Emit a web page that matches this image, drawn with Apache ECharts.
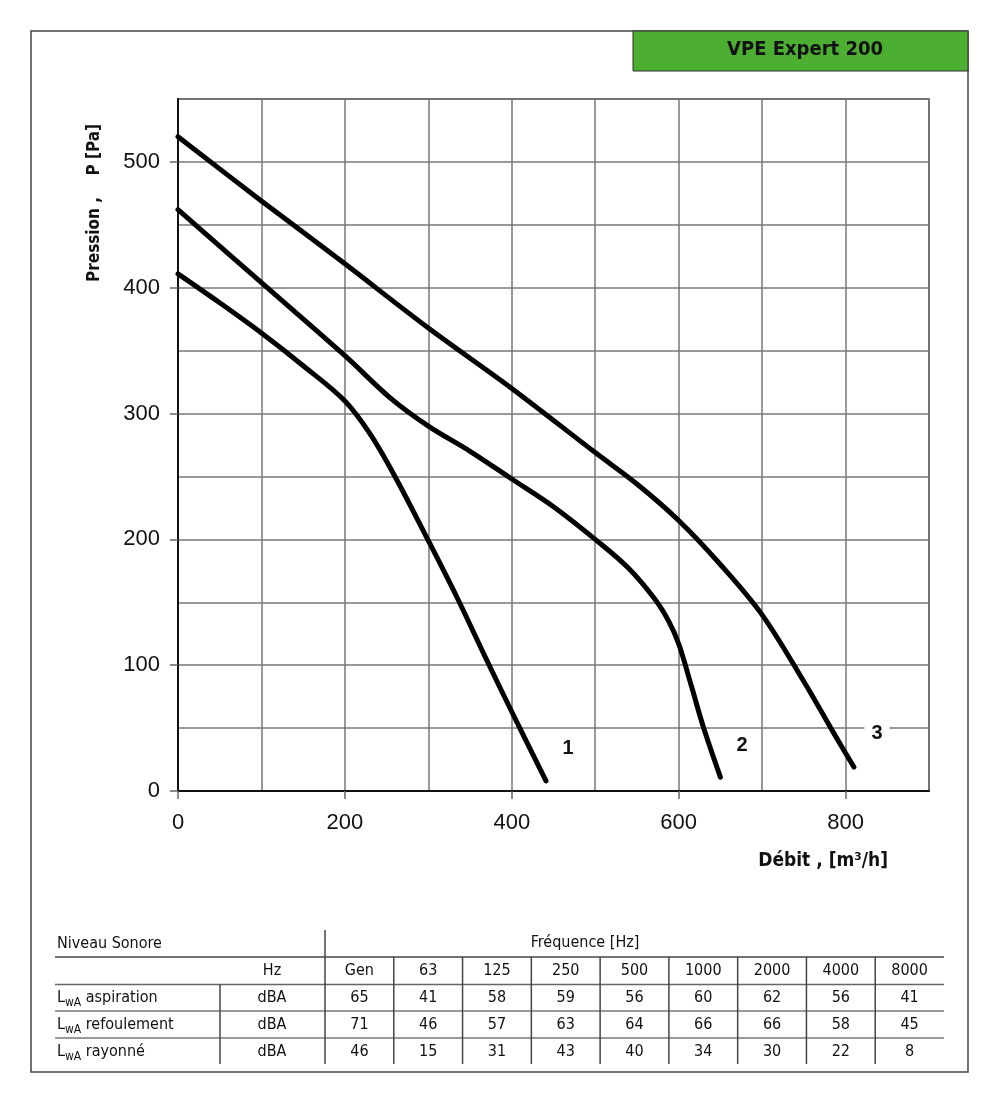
<!DOCTYPE html>
<html>
<head>
<meta charset="utf-8">
<script src="https://cdn.jsdelivr.net/npm/echarts@6/dist/echarts.min.js"></script>
<style>
html,body{margin:0;padding:0;background:#fff;}
#chart{width:1000px;height:1103px;}
</style>
</head>
<body>
<div id="chart"></div>
<script>
// ---- Data ----
const chartTitle = 'VPE Expert 200';
const xTicks = [0, 200, 400, 600, 800];
const yTicks = [0, 100, 200, 300, 400, 500];
const curve1 = [[0,411],[50,388],[100,364],[150,338],[200,310],[230,284],[260,250],[300,199],[335,153],[370,104],[400,63],[441,8]];
const curve2 = [[0,462],[100,404],[200,346],[255,312],[300,290],[350,270],[400,248],[450,226],[500,200],[540,177],[572,152],[588,135],[600,117],[615,84],[630,50],[650,11]];
const curve3 = [[0,520],[100,469],[200,419],[300,368],[400,320],[500,269],[550,244],[600,215],[650,180],[700,140],[750,87],[785,47],[810,19]];
const curveNames = ['1', '2', '3'];

const tableTitle = 'Niveau Sonore';
const tableFreqTitle = 'Fréquence [Hz]';
const unitHeader = 'Hz';
const freqBands = ['Gen','63','125','250','500','1000','2000','4000','8000'];
const rowLabels = ['aspiration', 'refoulement', 'rayonné'];
const rowUnit = 'dBA';
const aspiration = [65,41,58,59,56,60,62,56,41];
const refoulement = [71,46,57,63,64,66,66,58,45];
const rayonne = [46,15,31,43,40,34,30,22,8];
const tableRows = [aspiration, refoulement, rayonne];

// ---- Layout ----
const narrow = '"Liberation Sans Narrow","DejaVu Sans Condensed","Open Sans",sans-serif';
const arial = '"Liberation Sans",Arial,sans-serif';

const graphics = [];
graphics.push({type:'rect', shape:{x:31,y:31,width:937,height:1041}, style:{fill:null, stroke:'#444', lineWidth:1.5}, z:1});
graphics.push({type:'rect', shape:{x:633,y:31,width:335,height:40}, style:{fill:'#4caf32', stroke:'#333', lineWidth:1}, z:2});
graphics.push({type:'text', x:805, y:50, style:{text:chartTitle, align:'center', verticalAlign:'middle', font:'bold 20px ' + narrow, fill:'#111'}, z:3});
graphics.push({type:'text', x:95, y:203, rotation:Math.PI/2, style:{text:'Pression ,    P [Pa]', align:'center', verticalAlign:'middle', font:'bold 17px ' + narrow, fill:'#111'}, z:3});
graphics.push({type:'text', x:888, y:861, style:{text:'Débit , [m³/h]', align:'right', verticalAlign:'middle', font:'bold 19px ' + narrow, fill:'#111'}, z:3});
const labelPos = [[568,748],[742,745],[877,733]];
curveNames.forEach((n,i)=>{
  graphics.push({type:'text', x:labelPos[i][0], y:labelPos[i][1], style:{text:n, align:'center', verticalAlign:'middle', font:'bold 20px ' + arial, fill:'#111', backgroundColor:'#fff', padding:[2,7]}, z:10});
});

// table
const tL = 55, tR = 944, c0 = 325, cW = (tR - c0) / freqBands.length;
const hY = 957, rY = [984.5, 1011, 1038], tB = 1064;
const hl = (y, col, w) => graphics.push({type:'line', shape:{x1:tL,y1:y,x2:tR,y2:y}, style:{stroke:col, lineWidth:w}, z:2});
hl(hY, '#444', 1.5);
hl(rY[0], '#666', 1.5);
hl(rY[1], '#999', 2);
hl(rY[2], '#999', 2);
const vl = (x, y1, y2) => graphics.push({type:'line', shape:{x1:x,y1:y1,x2:x,y2:y2}, style:{stroke:'#444', lineWidth:1.5}, z:2});
vl(c0, 930, tB);
vl(220, rY[0], tB);
for (let i = 1; i < freqBands.length; i++) vl(c0 + i*cW, hY, tB);
const tFont = '16px ' + narrow;
graphics.push({type:'text', x:57, y:944, style:{text:tableTitle, align:'left', verticalAlign:'middle', font:tFont, fill:'#111'}, z:3});
graphics.push({type:'text', x:585, y:943, style:{text:tableFreqTitle, align:'center', verticalAlign:'middle', font:tFont, fill:'#111'}, z:3});
graphics.push({type:'text', x:272, y:971, style:{text:unitHeader, align:'center', verticalAlign:'middle', font:tFont, fill:'#111'}, z:3});
freqBands.forEach((b,i)=>{
  graphics.push({type:'text', x:c0 + (i+0.5)*cW, y:971, style:{text:b, align:'center', verticalAlign:'middle', font:tFont, fill:'#111'}, z:3});
});
const rowCY = [998, 1025, 1052];
tableRows.forEach((row, r)=>{
  graphics.push({type:'text', x:57, y:rowCY[r], style:{
    text:'{b|L}{s|wA}{b| ' + rowLabels[r] + '}', align:'left', verticalAlign:'middle',
    rich:{
      b:{font:tFont, fill:'#111', lineHeight:22, verticalAlign:'middle'},
      s:{font:'12px ' + narrow, fill:'#111', lineHeight:22, verticalAlign:'bottom'}
    }
  }, z:3});
  graphics.push({type:'text', x:272, y:rowCY[r], style:{text:rowUnit, align:'center', verticalAlign:'middle', font:tFont, fill:'#111'}, z:3});
  row.forEach((v,i)=>{
    graphics.push({type:'text', x:c0 + (i+0.5)*cW, y:rowCY[r], style:{text:String(v), align:'center', verticalAlign:'middle', font:tFont, fill:'#111'}, z:3});
  });
});

const lineSeries = [curve1, curve2, curve3].map((d,i)=>({
  type:'line', name:curveNames[i], data:d, smooth:0.35, symbol:'none',
  xAxisIndex:0, yAxisIndex:0,
  lineStyle:{color:'#000', width:5, cap:'round', join:'round'}, z:5, clip:false
}));

const chart = echarts.init(document.getElementById('chart'), null, {renderer:'canvas'});
chart.setOption({
  animation:false,
  backgroundColor:'#fff',
  grid:{left:178, top:99, right:71, bottom:312, show:true, borderColor:'#333', borderWidth:1.5, backgroundColor:'transparent'},
  xAxis:[{
    type:'value', min:0, max:900, interval:100, z:3,
    axisLine:{show:true, onZero:false, lineStyle:{color:'#111', width:2}},
    axisTick:{show:true, customValues:xTicks, length:8, lineStyle:{color:'#666', width:1.5}},
    axisLabel:{show:true, customValues:xTicks, margin:21, fontSize:22, fontFamily:arial, color:'#111'},
    splitLine:{show:false}
  },{
    type:'value', min:0, max:900, interval:100, position:'bottom', z:1,
    axisLine:{show:false}, axisTick:{show:false}, axisLabel:{show:false},
    splitLine:{show:true, lineStyle:{color:'#777', width:1.5}}
  }],
  yAxis:[{
    type:'value', min:0, max:550, interval:50, z:3,
    axisLine:{show:true, onZero:false, lineStyle:{color:'#111', width:2}},
    axisTick:{show:true, customValues:yTicks, length:8, lineStyle:{color:'#666', width:1.5}},
    axisLabel:{show:true, customValues:yTicks, margin:18, fontSize:22, fontFamily:arial, color:'#111'},
    splitLine:{show:false}
  },{
    type:'value', min:0, max:550, interval:50, position:'left', z:1,
    axisLine:{show:false}, axisTick:{show:false}, axisLabel:{show:false},
    splitLine:{show:true, lineStyle:{color:'#777', width:1.5}}
  }],
  series:lineSeries,
  graphic:graphics
});
</script>
</body>
</html>
